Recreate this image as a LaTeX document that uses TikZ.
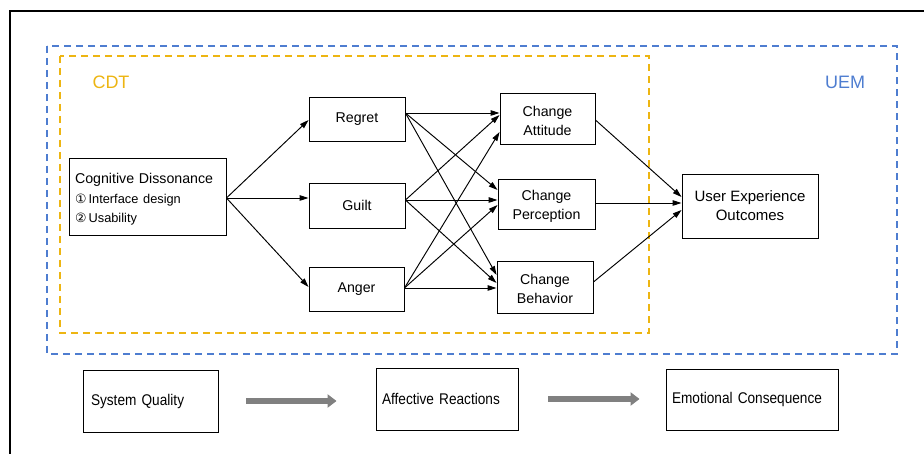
\documentclass[tikz,border=0pt]{standalone}
\usepackage{fontspec}
\setmainfont{Liberation Sans}
\newfontfamily\circfont{DejaVu Sans}
\newfontfamily\narrowfont[FakeStretch=0.88]{Liberation Sans}
\usetikzlibrary{arrows.meta}
\definecolor{cdtyellow}{HTML}{EDB512}
\definecolor{uemblue}{HTML}{4E7DD0}
\definecolor{flowgray}{HTML}{808080}

\begin{document}
\begin{tikzpicture}[x=1pt, y=-1pt,
  box/.style={draw, black, line width=0.9pt, inner sep=0pt, align=center, font=\fontsize{14.2}{19}\selectfont},
  link/.style={-{Triangle[length=9pt,width=5.5pt]}, line width=0.95pt},
  flow/.style={draw, line width=0.9pt, inner ysep=0pt, align=left, minimum height=62pt, font=\narrowfont\fontsize{15.5}{18}\selectfont},
  bigarrow/.style={flowgray, line width=5.5pt, -{Triangle[length=9pt,width=13pt]}},
  zone/.style={dash pattern=on 7pt off 5pt, line width=1.5pt}]
\useasboundingbox (0,0) rectangle (924,454);

% outer frame and the two theory zones
\draw[line width=1.6pt] (10,454) -- (10,11) -- (924,11);
\draw[zone, uemblue] (47,46) rectangle (897,354);
\draw[zone, cdtyellow] (60,56) rectangle (649,333);

\draw
(111,82) node[text=cdtyellow, font=\fontsize{18}{20}\selectfont](cdt){CDT}
(845,82) node[text=uemblue, font=\fontsize{18}{20}\selectfont](uem){UEM};

\draw
(147.5,196.5) node[draw, line width=0.9pt, text width=145pt, inner xsep=6pt, inner ysep=0pt, minimum height=77pt, align=left, font=\fontsize{14.2}{19.5}\selectfont](cd){\rule{0pt}{16pt}Cognitive Dissonance\\
{\fontsize{12.8}{19.5}\selectfont{\circfont ①}\,Interface design}\\
{\fontsize{12.8}{19.5}\selectfont{\circfont ②}\,Usability}}
(357,119) node[box, minimum width=96pt, minimum height=44pt](regret){Regret}
(357,205.5) node[box, minimum width=96pt, minimum height=45pt](guilt){Guilt}
(356.5,289) node[box, minimum width=95pt, minimum height=44pt](anger){Anger}
(547.5,118.5) node[box, minimum width=95pt, minimum height=51pt](att){\rule{0pt}{15pt}Change\\Attitude}
(546.5,204) node[box, minimum width=97pt, minimum height=50pt](perc){\rule{0pt}{15pt}Change\\Perception}
(545,287) node[box, minimum width=96pt, minimum height=52pt](beh){\rule{0pt}{15pt}Change\\Behavior}
(750,206) node[box, minimum width=136pt, minimum height=64pt, font=\fontsize{15}{19}\selectfont](ueo){User Experience\\Outcomes};

\draw[link] ([yshift=-1.5pt]cd.east) -- ([yshift=-1pt]regret.west);
\draw[link] ([yshift=-1.5pt]cd.east) -- ([yshift=7.5pt]guilt.west);
\draw[link] ([yshift=-1.5pt]cd.east) -- ([yshift=2pt]anger.west);

\draw[link] ([yshift=6pt]regret.east) -- ([yshift=5.5pt]att.west);
\draw[link] ([yshift=6pt]regret.east) -- ([yshift=14pt]perc.west);
\draw[link] ([yshift=6pt]regret.east) -- ([yshift=12pt]beh.west);
\draw[link] ([yshift=5.5pt]guilt.east) -- ([yshift=3.5pt]att.west);
\draw[link] ([yshift=5.5pt]guilt.east) -- ([yshift=4pt]perc.west);
\draw[link] ([yshift=5.5pt]guilt.east) -- ([yshift=4pt]beh.west);
\draw[link] ([yshift=1pt]anger.east) -- ([yshift=-13.5pt]att.west);
\draw[link] ([yshift=1pt]anger.east) -- ([yshift=-1pt]perc.west);
\draw[link] ([yshift=1pt]anger.east) -- ([yshift=-1pt]beh.west);

\draw[link] ([yshift=-1.5pt]att.east) -- ([yshift=9pt]ueo.west);
\draw[link] ([yshift=1pt]perc.east) -- ([yshift=3pt]ueo.west);
\draw[link] ([yshift=5pt]beh.east) -- ([yshift=-4pt]ueo.west);

% bottom row
\draw
(150.5,401) node[flow, text width=119pt, inner xsep=8pt](sq){System Quality}
(447,399) node[flow, text width=130pt, inner xsep=6pt](ar){Affective Reactions}
(752,399.5) node[flow, text width=160pt, inner xsep=6pt, minimum height=61pt](ec){Emotional Consequence};

\draw[bigarrow, shorten <=28pt, shorten >=39pt] (sq.east) -- (sq.east -| ar.west);
\draw[bigarrow, shorten <=30pt, shorten >=26pt] (ar.east) -- (ar.east -| ec.west);

\end{tikzpicture}
\end{document}
